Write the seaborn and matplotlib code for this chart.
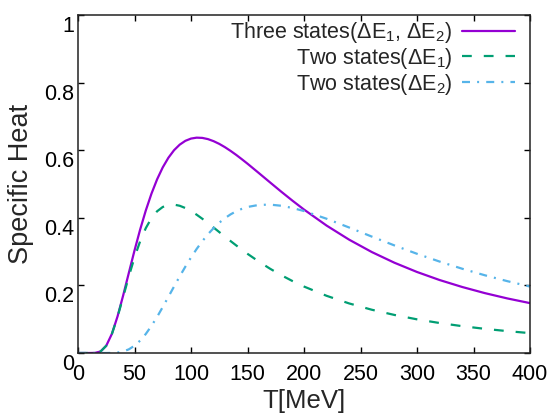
import numpy as np
import pandas as pd
import matplotlib
matplotlib.use("Agg")
import matplotlib.pyplot as plt
from matplotlib.transforms import ScaledTranslation
import seaborn as sns

# ---- data ----
T = [0, 5, 10, 15, 20, 25, 30, 35, 40, 45, 50, 55, 60, 65, 70, 75, 80, 85, 90, 95,
     100, 105, 110, 115, 120, 125, 130, 135, 140, 145, 150, 160, 170, 180, 190,
     200, 220, 240, 260, 280, 300, 320, 340, 360, 380, 400]
three_states = [0.0, 0.0, 0.0, 0.0003, 0.0045, 0.0215, 0.0567, 0.1084, 0.1707,
                0.2372, 0.3032, 0.3653, 0.4217, 0.4713, 0.5138, 0.5492, 0.5777,
                0.6000, 0.6164, 0.6277, 0.6344, 0.6371, 0.6364, 0.6328, 0.6267,
                0.6187, 0.6090, 0.5980, 0.5861, 0.5733, 0.5601, 0.5325, 0.5046,
                0.4769, 0.4501, 0.4244, 0.3770, 0.3352, 0.2987, 0.2671, 0.2397,
                0.2159, 0.1953, 0.1772, 0.1614, 0.1476]
two_states_e1 = [0.0, 0.0, 0.0, 0.0003, 0.0045, 0.0215, 0.0564, 0.1070, 0.1662,
                 0.2266, 0.2826, 0.3307, 0.3695, 0.3989, 0.4193, 0.4320, 0.4381,
                 0.4390, 0.4356, 0.4289, 0.4200, 0.4092, 0.3972, 0.3844, 0.3712,
                 0.3578, 0.3444, 0.3312, 0.3183, 0.3057, 0.2935, 0.2705, 0.2493,
                 0.2300, 0.2125, 0.1966, 0.1692, 0.1466, 0.1280, 0.1126, 0.0996,
                 0.0887, 0.0794, 0.0715, 0.0647, 0.0588]
two_states_e2 = [0.0, 0.0, 0.0, 0.0, 0.0, 0.0, 0.0003, 0.0014, 0.0045, 0.0109,
                 0.0215, 0.0367, 0.0564, 0.0801, 0.1069, 0.1360, 0.1662, 0.1967,
                 0.2266, 0.2554, 0.2826, 0.3078, 0.3307, 0.3514, 0.3695, 0.3854,
                 0.3989, 0.4101, 0.4193, 0.4265, 0.4320, 0.4381, 0.4390, 0.4356,
                 0.4289, 0.4200, 0.3972, 0.3712, 0.3444, 0.3183, 0.2935, 0.2705,
                 0.2493, 0.2300, 0.2125, 0.1966]
labels = ["Three states(ΔE$_1$, ΔE$_2$)", "Two states(ΔE$_1$)", "Two states(ΔE$_2$)"]
xticks = [0, 50, 100, 150, 200, 250, 300, 350, 400]
yticks = [0, 0.2, 0.4, 0.6, 0.8, 1.0]
ytick_labels = ["0", "0.2", "0.4", "0.6", "0.8", "1"]

df = pd.DataFrame({"T": T, "three": three_states, "e1": two_states_e1, "e2": two_states_e2})

sns.set_theme(style="ticks")
plt.rcParams["font.family"] = ["Liberation Sans", "DejaVu Sans"]
plt.rcParams["mathtext.fontset"] = "custom"
plt.rcParams["mathtext.rm"] = "Liberation Sans"
plt.rcParams["mathtext.it"] = "Liberation Sans:italic"
plt.rcParams["mathtext.bf"] = "Liberation Sans:bold"

fig = plt.figure(figsize=(5.53, 4.13), dpi=100)
ax = fig.add_axes([78/553, 1-353/413, (530-78)/553, (353-15)/413])

lw = 1.6
sns.lineplot(data=df, x="T", y="three", ax=ax, color="#9400D3", lw=lw, label=labels[0])
sns.lineplot(data=df, x="T", y="e1", ax=ax, color="#009E73", lw=lw,
             linestyle=(0, (4.4, 5.4)), label=labels[1])
sns.lineplot(data=df, x="T", y="e2", ax=ax, color="#56B4E9", lw=lw,
             linestyle=(0, (3.6, 3.2, 0.9, 3.2)), label=labels[2])

ax.set_xlim(0, 400)
ax.set_ylim(0, 1)
ax.set_xticks(xticks)
ax.set_xticklabels([str(v) for v in xticks])
ax.set_yticks(yticks)
ax.set_yticklabels(ytick_labels)
ax.tick_params(direction="in", top=True, right=True, length=4, width=1,
               labelsize=15.5, colors="black")
ax.tick_params(axis="x", pad=8)
ax.tick_params(axis="y", pad=3)
for lab in ax.get_yticklabels():
    lab.set_transform(lab.get_transform() + ScaledTranslation(0, -0.09, fig.dpi_scale_trans))
for sp in ax.spines.values():
    sp.set_linewidth(1.1)
    sp.set_color("#222222")

ax.set_xlabel("T[MeV]", fontsize=18.5, labelpad=3)
ax.set_ylabel("Specific Heat", fontsize=19.5, labelpad=7)

leg = ax.legend(loc="upper right", bbox_to_anchor=(1 - 15/452, 0.985), frameon=False,
                markerfirst=False, fontsize=15.5, handlelength=2.45, handletextpad=0.45,
                labelspacing=0.04, borderpad=0, borderaxespad=0)

fig.savefig("out.png", dpi=100)
